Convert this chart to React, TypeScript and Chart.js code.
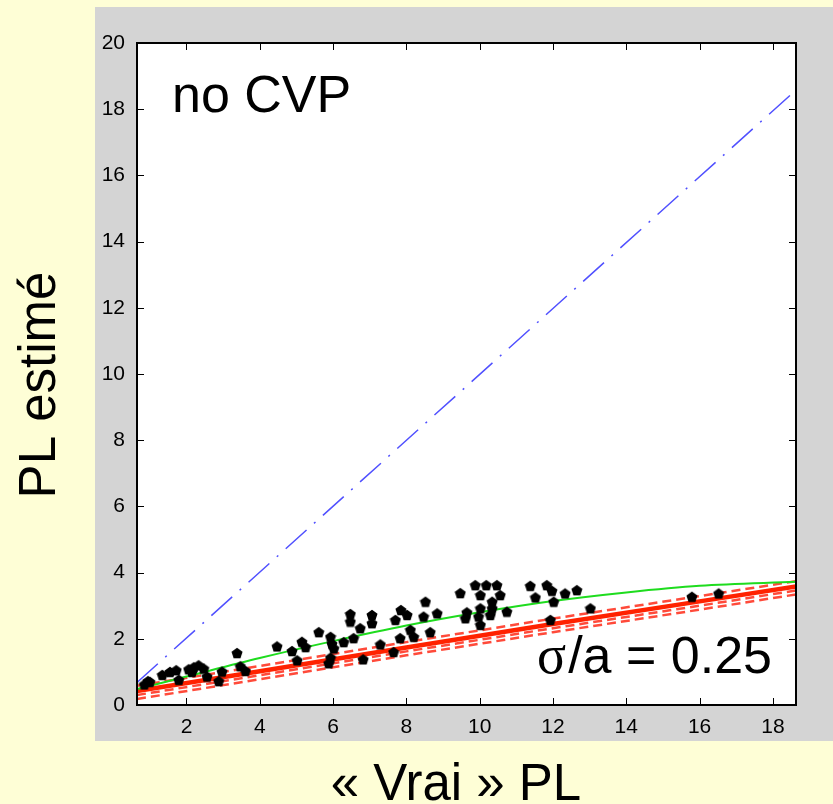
import { useEffect, useRef } from "react";
import { Chart, registerables } from "chart.js";

Chart.register(...registerables);

// ---- axis ranges & ticks ----
const X_MIN = 0.65;
const X_MAX = 18.63;
const Y_MIN = 0;
const Y_MAX = 20;
const xTickValues = [2, 4, 6, 8, 10, 12, 14, 16, 18];
const yTickStep = 2;

// ---- texts ----
const xTitle = "« Vrai » PL";
const yTitle = "PL estimé";
const noteTop = "no CVP";
const noteSigma = "σ";
const noteRatio = "/a = 0.25";

// ---- scatter (estimated PL vs true PL) ----
const scatterX = [
  0.85, 0.95, 1.0, 1.34, 1.55, 1.72, 1.79, 2.06, 2.15, 2.2, 2.33, 2.47, 2.56, 2.88, 2.97,
  3.38, 3.47, 3.61, 4.47, 4.88, 5.02, 5.15, 5.25, 5.61, 5.93, 5.97, 6.02, 5.93, 5.88,
  6.29, 6.47, 6.47, 6.74, 6.56, 6.82, 7.06, 7.06, 7.29, 7.65, 7.7, 7.85, 8.02, 8.11,
  8.2, 7.83, 8.52, 8.47, 8.65, 8.84, 9.47, 9.61, 9.88, 10.18, 10.47, 10.02, 10.56,
  10.34, 9.65, 10.02, 10.34, 9.97, 10.29, 10.74, 10.02, 11.38, 11.83, 11.97, 11.52,
  12.02, 12.33, 12.65, 13.02, 11.93, 15.79, 16.52,
];
const scatterY = [
  0.62, 0.72, 0.7, 0.91, 1.0, 1.05, 0.76, 1.08, 1.0, 1.14, 1.2, 1.1, 0.86, 0.72, 1.01,
  1.57, 1.17, 1.03, 1.77, 1.63, 1.35, 1.91, 1.75, 2.2, 2.06, 1.85, 1.71, 1.43, 1.26,
  1.9, 2.75, 2.52, 2.32, 2.02, 1.38, 2.72, 2.47, 1.83, 1.6, 2.57, 2.87, 2.72, 2.27,
  2.06, 2.02, 3.12, 2.67, 2.2, 2.77, 3.38, 2.62, 3.62, 3.62, 3.62, 3.32, 3.32,
  3.12, 2.8, 2.92, 2.92, 2.67, 2.72, 2.82, 2.42, 3.6, 3.62, 3.45, 3.25,
  3.12, 3.37, 3.47, 2.92, 2.57, 3.27, 3.37,
];

// ---- blue dash-dot line (y = x) ----
const blueX = [0.65, 18.5];
const blueY = [0.68, 18.45];

// ---- green curve ----
const greenX = [0.65, 2, 4, 6, 8, 10, 12, 14, 16, 18.63];
const greenY = [0.48, 0.86, 1.42, 1.93, 2.4, 2.8, 3.14, 3.4, 3.6, 3.72];

// ---- red lines ----
const redX = [0.65, 4, 8, 12, 16, 18.63];
const redMainY = [0.42, 1.02, 1.74, 2.45, 3.13, 3.58];
const redUpperY = [0.58, 1.18, 1.9, 2.61, 3.29, 3.74];
const redLower1Y = [0.3, 0.9, 1.62, 2.32, 3.0, 3.46];
const redLower2Y = [0.18, 0.78, 1.5, 2.2, 2.88, 3.34];

const toPts = (xs: number[], ys: number[]) => xs.map((x, i) => ({ x, y: ys[i] }));

function makeMarker(): HTMLCanvasElement {
  const c = document.createElement("canvas");
  c.width = 12;
  c.height = 12;
  const g = c.getContext("2d")!;
  g.fillStyle = "#000";
  g.beginPath();
  const cx = 6, cy = 6.5, r = 5.8;
  for (let i = 0; i < 5; i++) {
    const a = -Math.PI / 2 + (i * 2 * Math.PI) / 5;
    const px = cx + r * Math.cos(a);
    const py = cy + r * Math.sin(a);
    if (i === 0) g.moveTo(px, py);
    else g.lineTo(px, py);
  }
  g.closePath();
  g.fill();
  return c;
}

const framePlugin = {
  id: "frame",
  beforeDraw(chart: any) {
    const { ctx, chartArea: a, width, height } = chart;
    ctx.save();
    ctx.fillStyle = "#FEFED6";
    ctx.fillRect(0, 0, width, height);
    ctx.fillStyle = "#D4D4D4";
    const gl = a.left - 42;
    const gt = a.top - 36;
    ctx.fillRect(gl, gt, width - gl, a.bottom + 36 - gt);
    ctx.fillStyle = "#FFFFFF";
    ctx.fillRect(a.left, a.top, a.right - a.left, a.bottom - a.top);
    ctx.restore();
  },
  afterDatasetsDraw(chart: any) {
    const { ctx, chartArea: a, scales } = chart;
    const xs = scales.x;
    const ys = scales.y;
    ctx.save();
    ctx.strokeStyle = "#000";
    ctx.lineWidth = 1;
    const tl = 7;
    ctx.beginPath();
    for (const t of xs.ticks) {
      const p = Math.round(xs.getPixelForValue(t.value)) + 0.5;
      ctx.moveTo(p, a.bottom);
      ctx.lineTo(p, a.bottom - tl);
      ctx.moveTo(p, a.top);
      ctx.lineTo(p, a.top + tl);
    }
    for (const t of ys.ticks) {
      const p = Math.round(ys.getPixelForValue(t.value)) + 0.5;
      ctx.moveTo(a.left, p);
      ctx.lineTo(a.left + tl, p);
      ctx.moveTo(a.right, p);
      ctx.lineTo(a.right - tl, p);
    }
    ctx.stroke();
    ctx.lineWidth = 2;
    ctx.strokeRect(a.left, a.top, a.right - a.left, a.bottom - a.top);
    ctx.restore();
  },
  afterDraw(chart: any) {
    const { ctx, chartArea: a } = chart;
    ctx.save();
    ctx.fillStyle = "#000";
    ctx.textBaseline = "alphabetic";
    // in-plot notes
    ctx.font = "52px 'Liberation Sans', Arial, sans-serif";
    ctx.textAlign = "left";
    ctx.fillText(noteTop, a.left + 35, a.top + 69);
    ctx.textAlign = "right";
    const rx = a.right - 24;
    const by = a.bottom - 32;
    ctx.fillText(noteRatio, rx, by);
    const w = ctx.measureText(noteRatio).width;
    ctx.font = "54px 'Liberation Serif', 'Times New Roman', serif";
    ctx.fillText(noteSigma, rx - w - 2, by);
    // axis titles
    ctx.font = "51px 'Liberation Sans', Arial, sans-serif";
    ctx.textAlign = "center";
    ctx.fillText(xTitle, 456, a.bottom + 95);
    ctx.translate(55, 385);
    ctx.rotate(-Math.PI / 2);
    ctx.fillText(yTitle, 0, 0);
    ctx.restore();
  },
};

export default function App() {
  const ref = useRef<HTMLCanvasElement | null>(null);

  useEffect(() => {
    document.body.style.margin = "0";
    document.body.style.background = "#FEFED6";
    const canvas = ref.current!;
    const marker = makeMarker();
    const chart = new Chart(canvas, {
      type: "scatter",
      data: {
        datasets: [
          {
            label: "data",
            data: toPts(scatterX, scatterY),
            pointStyle: marker as any,
            pointRadius: 6,
            backgroundColor: "#000",
            borderColor: "#000",
            showLine: false,
          },
          {
            label: "green",
            data: toPts(greenX, greenY),
            showLine: true,
            borderColor: "#1EDC1E",
            borderWidth: 2,
            pointRadius: 0,
            cubicInterpolationMode: "monotone",
          },
          {
            label: "redMain",
            data: toPts(redX, redMainY),
            showLine: true,
            borderColor: "#FF2200",
            borderWidth: 4.5,
            pointRadius: 0,
          },
          {
            label: "redUpper",
            data: toPts(redX, redUpperY),
            showLine: true,
            borderColor: "#FF4A3A",
            borderWidth: 2.5,
            borderDash: [9, 5],
            pointRadius: 0,
          },
          {
            label: "redLower1",
            data: toPts(redX, redLower1Y),
            showLine: true,
            borderColor: "#FF4A3A",
            borderWidth: 2.5,
            borderDash: [9, 5],
            pointRadius: 0,
          },
          {
            label: "redLower2",
            data: toPts(redX, redLower2Y),
            showLine: true,
            borderColor: "#FF4A3A",
            borderWidth: 2.5,
            borderDash: [9, 5],
            pointRadius: 0,
          },
          {
            label: "blue",
            data: toPts(blueX, blueY),
            showLine: true,
            borderColor: "#5050FF",
            borderWidth: 1.5,
            borderDash: [28, 10, 2, 10],
            pointRadius: 0,
          },
        ],
      },
      options: {
        animation: false,
        responsive: false,
        maintainAspectRatio: false,
        layout: { padding: { left: 0, top: 43, right: 37, bottom: 0 } },
        plugins: {
          legend: { display: false },
          tooltip: { enabled: false },
          title: { display: false },
        },
        scales: {
          x: {
            type: "linear",
            min: X_MIN,
            max: X_MAX,
            afterBuildTicks: (s: any) => {
              s.ticks = xTickValues.map((v) => ({ value: v }));
            },
            afterFit: (s: any) => {
              s.height = 99;
            },
            grid: { display: false, drawTicks: false },
            border: { display: false },
            ticks: {
              autoSkip: false,
              maxRotation: 0,
              padding: 10,
              color: "#000",
              font: { family: "'Liberation Sans', Arial, sans-serif", size: 21 },
            },
          },
          y: {
            type: "linear",
            min: Y_MIN,
            max: Y_MAX,
            afterFit: (s: any) => {
              s.width = 137;
            },
            grid: { display: false, drawTicks: false },
            border: { display: false },
            ticks: {
              stepSize: yTickStep,
              padding: 12,
              color: "#000",
              font: { family: "'Liberation Sans', Arial, sans-serif", size: 21 },
            },
          },
        },
      },
      plugins: [framePlugin],
    });
    return () => chart.destroy();
  }, []);

  return (
    <div style={{ width: 833, height: 804 }}>
      <canvas ref={ref} width={833} height={804} style={{ display: "block", width: 833, height: 804 }} />
    </div>
  );
}
